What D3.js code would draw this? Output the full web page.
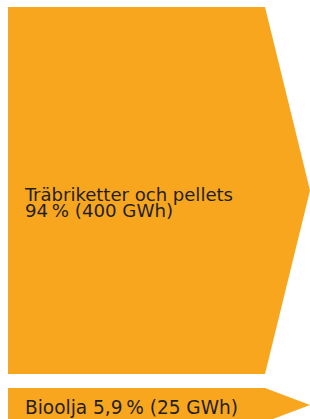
<!DOCTYPE html>
<html>
<head>
<meta charset="utf-8">
<script src="https://cdn.jsdelivr.net/npm/d3@7"></script>
<style>
  body { margin: 0; background: #fff; }
  text { font-family: "DejaVu Sans Condensed", "DejaVu Sans", sans-serif; fill: #231f20; }
</style>
</head>
<body>
<div id="chart"></div>
<script>
const width = 310;
const height = 419;

// data
const categories = ["Träbriketter och pellets", "Bioolja"];
const values = [400, 25];          // GWh
const shares = ["94\u202F%", "5,9\u202F%"];

const svg = d3.select("#chart")
    .append("svg")
    .attr("width", width)
    .attr("height", height);

const x0 = 8, x1 = 265, tipLen = 45, yStart = 7, gap = 14;
const minThick = 34;

// thickness of each flow from its value
const yScale = d3.scaleLinear()
    .domain([0, d3.max(values)])
    .range([0, 367]);

let yPos = yStart;
const flows = values.map((v, i) => {
    const h = Math.max(yScale(v), minThick);
    const f = {name: categories[i], value: v, share: shares[i], y0: yPos, y1: yPos + h};
    yPos += h + gap;
    return f;
});

function arrowPath(d) {
    const mid = (d.y0 + d.y1) / 2;
    const p = d3.path();
    p.moveTo(x0, d.y0);
    p.lineTo(x1, d.y0);
    p.lineTo(x1 + tipLen, mid);
    p.lineTo(x1, d.y1);
    p.lineTo(x0, d.y1);
    p.closePath();
    return p.toString();
}

svg.selectAll("path.flow")
    .data(flows)
    .join("path")
    .attr("class", "flow")
    .attr("d", arrowPath)
    .attr("fill", "#f8a61d");

// big flow: two-line label
const big = flows[0];
const bigMid = (big.y0 + big.y1) / 2;
const bigLabel = svg.append("text")
    .attr("font-size", 18);
bigLabel.append("tspan")
    .attr("x", 25).attr("y", bigMid + 10.5)
    .attr("textLength", 208).attr("lengthAdjust", "spacingAndGlyphs")
    .text(big.name);
bigLabel.append("tspan")
    .attr("x", 25).attr("y", bigMid + 26.5)
    .attr("textLength", 148).attr("lengthAdjust", "spacingAndGlyphs")
    .text(`${big.share} (${big.value} GWh)`);

// small flow: one-line label
const small = flows[1];
svg.append("text")
    .attr("x", 25).attr("y", small.y0 + 25.5)
    .attr("font-size", 19.5)
    .attr("textLength", 213).attr("lengthAdjust", "spacingAndGlyphs")
    .text(`${small.name} ${small.share} (${small.value} GWh)`);
</script>
</body>
</html>
